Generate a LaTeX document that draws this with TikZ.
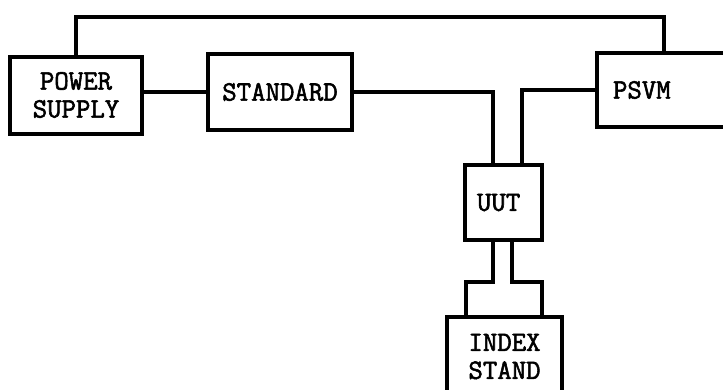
\documentclass[tikz,border=0pt]{standalone}
\usepackage{fontspec}
\newfontfamily\boxfont[FakeBold=2]{Latin Modern Mono}
\usetikzlibrary{positioning,calc}

\begin{document}
\begin{tikzpicture}[x=1pt,y=-1pt,line width=4pt,
    block/.style={draw,rectangle,align=center,inner sep=0pt,
      font=\boxfont\fontsize{28}{28}\selectfont}]
  \useasboundingbox (0,0) rectangle (723,389);
  % boxes
  \node[block,minimum width=132pt,minimum height=77pt] (ps) at (76,95) {POWER\\SUPPLY};
  \node[block,minimum width=144pt,minimum height=76pt] (std) at (280,92) {STANDARD};
  \node[block,text width=101pt,inner xsep=16pt,minimum height=74pt,align=left] (psvm) at (663.5,90) {PSVM};
  \node[block,text width=53pt,inner xsep=12pt,minimum height=75pt,align=left] (uut) at (503.5,202.5) {UUT};
  \node[block,minimum width=115pt,minimum height=79pt] (idx) at (504.5,356.5) {INDEX\\STAND};
  % wiring
  \draw (ps.north) -- ++(0,-38) -| (psvm.north);
  \draw (ps.east |- std.west) -- (std.west);
  \draw (std.east) -| ([xshift=-10.5pt]uut.north);
  \draw (psvm.west) -| ([xshift=18.5pt]uut.north);
  \draw ([xshift=-10.5pt]uut.south) -- ++(0,40) -| ([xshift=-38.5pt]idx.north);
  \draw ([xshift=8.5pt]uut.south) -- ++(0,40) -| ([xshift=37.5pt]idx.north);
\end{tikzpicture}
\end{document}
